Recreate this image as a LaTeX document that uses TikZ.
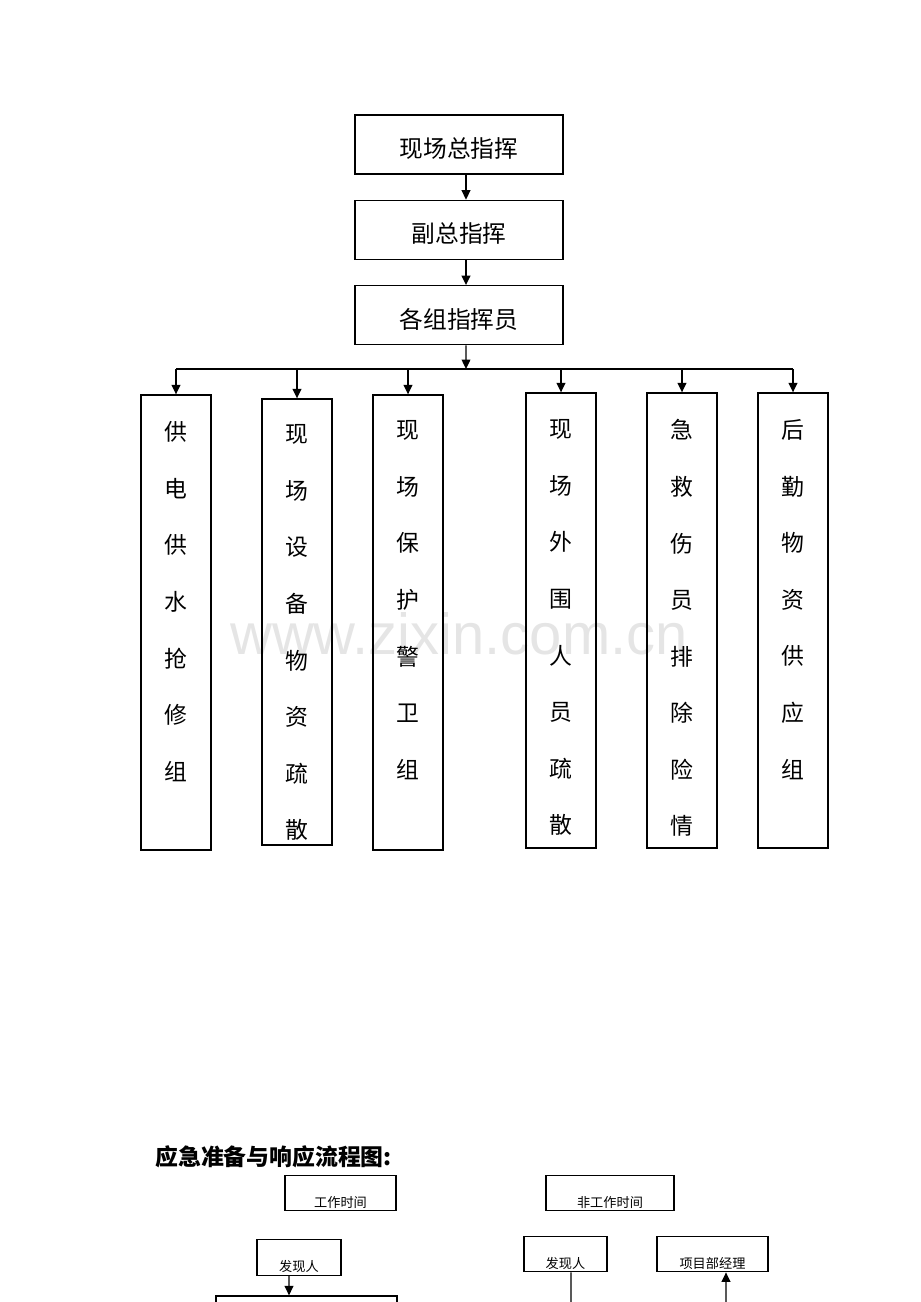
\documentclass[tikz,border=0pt]{standalone}
\usepackage{fontspec}
\setmainfont{Noto Sans CJK SC}
\newfontfamily\wmfont{Liberation Sans}
\usetikzlibrary{positioning,arrows.meta}

\tikzset{
  hbox/.style={draw,line width=0.8pt,minimum width=4.16cm,minimum height=1.18cm,
    inner sep=0pt,text height=16.5pt,text depth=1.6pt,font=\fontsize{13.5}{15}\selectfont},
  vbox/.style={draw,line width=0.8pt,minimum width=1.4cm,inner sep=0pt},
  vtext/.style={anchor=north,align=center,inner sep=0pt,
    font=\fontsize{13}{32.2}\selectfont},
  sbox/.style={draw,line width=0.7pt,inner sep=0pt,minimum height=0.71cm},
  stext/.style={inner sep=0pt,font=\fontsize{7.5}{8}\selectfont},
  arr/.style={-{Triangle[length=5.4pt,width=5pt]},line width=0.8pt},
  link/.style={line width=0.8pt}
}

\begin{document}
\begin{tikzpicture}[x=0.02cm,y=-0.02cm]
  \useasboundingbox (0,0) rectangle (920,1302);
  \clip (0,0) rectangle (920,1302);
  % watermark
  \node[text=black!10,font=\wmfont\fontsize{33}{36}\selectfont] (wm) at (459,634) {www.zixin.com.cn};

  % command chain
  \node[hbox] (c1) at (459,144.5) {现场总指挥};
  \node[hbox,below=0.5cm of c1] (c2) {副总指挥};
  \node[hbox,below=0.5cm of c2] (c3) {各组指挥员};
  \draw[arr] ([xshift=0.14cm]c1.south) -- ([xshift=0.14cm]c2.north);
  \draw[arr] ([xshift=0.14cm]c2.south) -- ([xshift=0.14cm]c3.north);

  % groups
  \node[vbox,minimum height=9.1cm]  (g1) at (176,622.5) {};
  \node[vbox,minimum height=8.92cm] (g2) at (297,622) {};
  \node[vbox,minimum height=9.1cm]  (g3) at (408,622.5) {};
  \node[vbox,minimum height=9.1cm]  (g4) at (561,620.5) {};
  \node[vbox,minimum height=9.1cm]  (g5) at (682,620.5) {};
  \node[vbox,minimum height=9.1cm]  (g6) at (793,620.5) {};
  \node[vtext,below=0.54cm of g1.north] (t1) {供\\电\\供\\水\\抢\\修\\组};
  \node[vtext,below=0.52cm of g2.north] (t2) {现\\场\\设\\备\\物\\资\\疏\\散};
  \node[vtext,below=0.52cm of g3.north] (t3) {现\\场\\保\\护\\警\\卫\\组};
  \node[vtext,below=0.54cm of g4.north] (t4) {现\\场\\外\\围\\人\\员\\疏\\散};
  \node[vtext,below=0.54cm of g5.north] (t5) {急\\救\\伤\\员\\排\\除\\险\\情};
  \node[vtext,below=0.54cm of g6.north] (t6) {后\\勤\\物\\资\\供\\应\\组};

  \coordinate (bus) at (466,369);
  \draw[arr] ([xshift=0.14cm]c3.south) -- (bus);
  \draw[link] (g1.north |- bus) -- (g6.north |- bus);
  \draw[arr] (g1.north |- bus) -- (g1.north);
  \draw[arr] (g2.north |- bus) -- (g2.north);
  \draw[arr] (g3.north |- bus) -- (g3.north);
  \draw[arr] (g4.north |- bus) -- (g4.north);
  \draw[arr] (g5.north |- bus) -- (g5.north);
  \draw[arr] (g6.north |- bus) -- (g6.north);

  % response flow
  \node[anchor=west,inner sep=0pt,font=\fontsize{13}{15}\selectfont\bfseries] (title) at (155,1157) {应急准备与响应流程图:};
  \node[sbox,minimum width=2.22cm] (wt) at (340.5,1193) {};
  \node[stext] (wtt) at ([yshift=0.18cm]wt.south) {工作时间};
  \node[sbox,minimum width=2.56cm] (nwt) at (610,1193) {};
  \node[stext] (nwtt) at ([yshift=0.18cm]nwt.south) {非工作时间};
  \node[sbox,minimum width=1.68cm] (fx1) at (299,1257.5) {};
  \node[stext] (fx1t) at ([yshift=0.18cm]fx1.south) {发现人};
  \node[sbox,minimum width=1.66cm] (fx2) at (565.5,1254) {};
  \node[stext] (fx2t) at ([yshift=0.18cm]fx2.south) {发现人};
  \node[sbox,minimum width=2.22cm] (ld) at (712.5,1254) {};
  \node[stext] (ldt) at ([yshift=0.18cm]ld.south) {项目部经理};
  \node[sbox,minimum width=3.62cm,minimum height=1cm] (bg) at (306.5,1321) {};
  \coordinate (e1) at (571,1310);
  \coordinate (e2) at (726,1310);
  \draw[arr] ([xshift=-0.2cm]fx1.south) -- ([xshift=-0.35cm]bg.north);
  \draw[link] ([xshift=0.11cm]fx2.south) -- (e1);
  \draw[arr] (e2) -- ([xshift=0.27cm]ld.south);
\end{tikzpicture}
\end{document}
